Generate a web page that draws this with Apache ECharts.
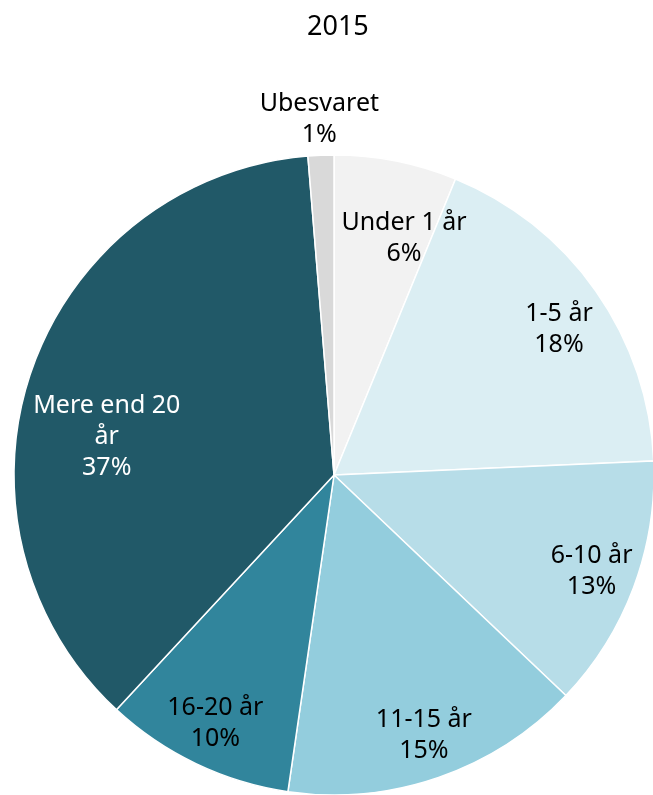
<!DOCTYPE html>
<html><head><meta charset="utf-8">
<script src="https://cdn.jsdelivr.net/npm/echarts@6/dist/echarts.min.js"></script>
<style>html,body{margin:0;padding:0;background:#fff}#c{width:653px;height:795px}</style>
</head><body><div id="c"></div>
<script>
const chartTitle = '2015';
const categories = ['Under 1 år', '1-5 år', '6-10 år', '11-15 år', '16-20 år', 'Mere end 20 år', 'Ubesvaret'];
const values = [6.2, 18.1, 12.8, 15.2, 9.6, 36.8, 1.3];

const colors = ['#f2f2f2', '#dbeef3', '#b7dde8', '#93cddd', '#31859c', '#215968', '#d9d9d9'];
const labelColors = ['#000', '#000', '#000', '#000', '#000', '#fff', '#000'];
const CENTER = [334, 475];
const RADIUS = 320;
// label rings: each ring places labels of its slices at half its radius
const labelRings = [
  { names: ['6-10 år', '11-15 år', '16-20 år'], r: 544 },
  { names: ['1-5 år'], r: 544, offset: [0, 13] },
  { names: ['Under 1 år'], r: 500, offset: [21, 12] },
  { names: ['Mere end 20 år'], r: 458, offset: [-8, 38] },
  { names: ['Ubesvaret'], r: 712, offset: [0, 3] }
];
const FONT = '"Noto Sans", "Open Sans", sans-serif';

function labelText(name, value) {
  const n = name === 'Mere end 20 år' ? 'Mere end 20\når' : name;
  return n + '\n' + Math.round(value) + '%';
}

const mainSeries = {
  type: 'pie',
  center: CENTER,
  radius: [0, RADIUS],
  startAngle: 90,
  clockwise: true,
  silent: true,
  animation: false,
  label: { show: false },
  labelLine: { show: false },
  itemStyle: { borderColor: '#ffffff', borderWidth: 1.5 },
  data: categories.map((c, i) => ({ name: c, value: values[i], itemStyle: { color: colors[i] } }))
};

const ringSeries = labelRings.map(ring => ({
  type: 'pie',
  center: CENTER,
  radius: [0, ring.r],
  startAngle: 90,
  clockwise: true,
  silent: true,
  animation: false,
  z: 5,
  labelLine: { show: false },
  itemStyle: { color: 'rgba(0,0,0,0)', borderWidth: 0 },
  emphasis: { disabled: true },
  data: categories.map((c, i) => ({
    name: c,
    value: values[i],
    label: {
      show: ring.names.includes(c),
      position: 'inside',
      formatter: p => labelText(p.name, p.value),
      color: labelColors[i],
      fontFamily: FONT,
      fontSize: 25,
      lineHeight: 31,
      align: 'center',
      offset: ring.offset || [0, 0]
    }
  }))
}));

const chart = echarts.init(document.getElementById('c'), null, { renderer: 'canvas' });
chart.setOption({
  backgroundColor: '#ffffff',
  animation: false,
  title: {
    text: chartTitle,
    left: 302,
    top: 6,
    textStyle: { fontFamily: FONT, fontSize: 27, fontWeight: 'normal', color: '#000', lineHeight: 32 }
  },
  series: [mainSeries].concat(ringSeries)
});
</script>
</body></html>
